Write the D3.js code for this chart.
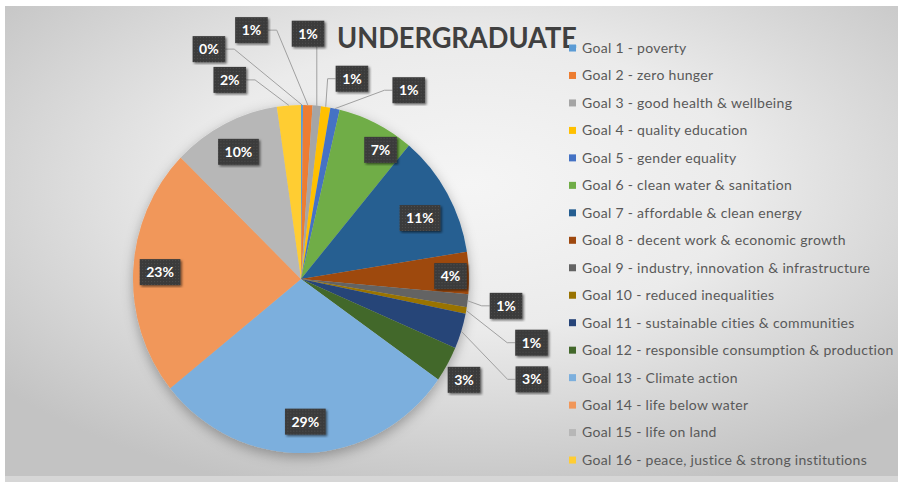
<!DOCTYPE html>
<html>
<head>
<meta charset="utf-8">
<script src="https://cdn.jsdelivr.net/npm/d3@7"></script>
<style>
  body { margin: 0; background: #fff; }
  svg { display: block; font-family: Lato, "Open Sans", sans-serif; }
</style>
</head>
<body>
<svg id="chart" width="898" height="482"></svg>
<script>
// data (share of responses, percent)
const goals = [
  "Goal 1 - poverty",
  "Goal 2 - zero hunger",
  "Goal 3 - good health & wellbeing",
  "Goal 4 - quality education",
  "Goal 5 - gender equality",
  "Goal 6 - clean water & sanitation",
  "Goal 7 - affordable & clean energy",
  "Goal 8 - decent work & economic growth",
  "Goal 9 - industry, innovation & infrastructure",
  "Goal 10 - reduced inequalities",
  "Goal 11 - sustainable cities & communities",
  "Goal 12 - responsible consumption & production",
  "Goal 13 - Climate action",
  "Goal 14 - life below water",
  "Goal 15 - life on land",
  "Goal 16 - peace, justice & strong institutions"
];
const shares = [0.2, 0.9, 0.8, 0.9, 0.9, 7.4, 11.4, 3.9, 1.2, 0.6, 3.3, 3.3, 29.4, 23.1, 10.4, 2.3];
const colors = [
  "#5B9BD5", "#ED7D31", "#A5A5A5", "#FFC000", "#4472C4", "#70AD47", "#255E91", "#9E480E",
  "#636363", "#997300", "#264478", "#43682B", "#7CAFDD", "#F1975A", "#B7B7B7", "#FFCD33"
];
const title = "UNDERGRADUATE";

// label placement (turn from slice middle in degrees, distance as share of radius, leader line)
const labelTurn   = [-22.9, -14, -3.7, 6.3, 18.9, 5.9, 3.2, 0.9, 0, 4.5, 5.3, 1.5, 0, 0, 0, -16.2];
const labelRadius = [1.43, 1.46, 1.41, 1.19, 1.26, 0.88, 0.79, 0.89, 1.23, 1.42, 1.49, 1.13, 0.82, 0.84, 0.82, 1.22];
const hasLeader   = [1, 1, 1, 1, 1, 0, 0, 0, 1, 1, 1, 0, 0, 0, 0, 1];

const width = 898, height = 482;
const cx = 301, cy = 279, r = 168, sy = 1.036;

const svg = d3.select("#chart");
const defs = svg.append("defs");

const grad = defs.append("radialGradient").attr("id", "bg")
  .attr("cx", "52%").attr("cy", "38%").attr("r", "68%");
grad.append("stop").attr("offset", "0").attr("stop-color", "#f5f5f5");
grad.append("stop").attr("offset", "0.45").attr("stop-color", "#ebebeb");
grad.append("stop").attr("offset", "1").attr("stop-color", "#c3c3c3");

const dots = defs.append("pattern").attr("id", "dots")
  .attr("width", 3).attr("height", 3).attr("patternUnits", "userSpaceOnUse");
dots.append("rect").attr("width", 3).attr("height", 3).attr("fill", "#3b3b3b");
dots.append("rect").attr("width", 1).attr("height", 1).attr("fill", "#4f4f4f");

defs.append("filter").attr("id", "pieShadow").attr("x", "-20%").attr("y", "-20%").attr("width", "140%").attr("height", "140%")
  .append("feDropShadow").attr("dx", 0).attr("dy", 4).attr("stdDeviation", 6)
  .attr("flood-color", "#000").attr("flood-opacity", 0.3);
defs.append("filter").attr("id", "boxShadow")
  .append("feDropShadow").attr("dx", 1.5).attr("dy", 1.5).attr("stdDeviation", 1.2)
  .attr("flood-color", "#000").attr("flood-opacity", 0.55);

// background
svg.append("rect").attr("x", 5).attr("y", 6).attr("width", width - 5).attr("height", 470)
  .attr("fill", "url(#bg)");
svg.append("rect").attr("x", 5).attr("y", 476).attr("width", width - 5).attr("height", 6)
  .attr("fill", "#d6d6d6");

// pie
const total = d3.sum(shares);
const pie = d3.pie().sort(null).value(d => d)(shares);
const arc = d3.arc().innerRadius(0).outerRadius(r);

svg.append("g")
  .attr("transform", `translate(${cx},${cy}) scale(1,${sy})`)
  .attr("filter", "url(#pieShadow)")
  .selectAll("path")
  .data(pie)
  .join("path")
  .attr("d", arc)
  .attr("fill", (d, i) => colors[i]);

// title
svg.append("text")
  .attr("x", 337).attr("y", 48)
  .attr("font-size", 29).attr("font-weight", "bold")
  .attr("fill", "#404040")
  .attr("textLength", 240).attr("lengthAdjust", "spacingAndGlyphs")
  .text(title);

// data labels
const polar = (a, rad) => [cx + rad * Math.sin(a), cy - rad * Math.cos(a) * sy];
const midAngle = d => (d.startAngle + d.endAngle) / 2;
const fmt = v => Math.round(v / total * 100) + "%";

const leaderG = svg.append("g").attr("fill", "none").attr("stroke", "#a0a0a0").attr("stroke-width", 1);
const labelG = svg.append("g");
const boxH = 26;

pie.forEach((d, i) => {
  const a = midAngle(d) + labelTurn[i] * Math.PI / 180;
  const [x, y] = polar(a, labelRadius[i] * r);
  const g = labelG.append("g").attr("transform", `translate(${x},${y})`);
  const t = g.append("text")
    .attr("text-anchor", "middle").attr("dy", "0.36em")
    .attr("font-size", 14).attr("font-weight", "bold")
    .attr("fill", "#fff")
    .text(fmt(d.value));
  const w = t.node().getComputedTextLength() + 13;
  g.insert("rect", "text")
    .attr("x", -w / 2).attr("y", -boxH / 2)
    .attr("width", w).attr("height", boxH)
    .attr("fill", "url(#dots)")
    .attr("filter", "url(#boxShadow)");

  if (hasLeader[i]) {
    const [ax, ay] = polar(midAngle(d), r);
    let pts;
    if (ax < x - w / 2) {
      pts = [[ax, ay], [x - w / 2 - 8, y], [x - w / 2, y]];
    } else if (ax > x + w / 2) {
      pts = [[ax, ay], [x + w / 2 + 9, y], [x + w / 2, y]];
    } else {
      pts = [[ax, ay], [ax, y + boxH / 2]];
    }
    leaderG.append("path").attr("d", d3.line()(pts));
  }
});

// legend
const legend = svg.append("g").attr("transform", "translate(569,48)");
const rows = legend.selectAll("g")
  .data(goals)
  .join("g")
  .attr("transform", (d, i) => `translate(0,${i * 27.47})`);
rows.append("rect")
  .attr("x", 0).attr("y", -3.5).attr("width", 7).attr("height", 7)
  .attr("fill", (d, i) => colors[i]);
rows.append("text")
  .attr("x", 13).attr("dy", "0.35em")
  .attr("font-size", 14).attr("letter-spacing", 0.3).attr("fill", "#595959")
  .text(d => d);
</script>
</body>
</html>
